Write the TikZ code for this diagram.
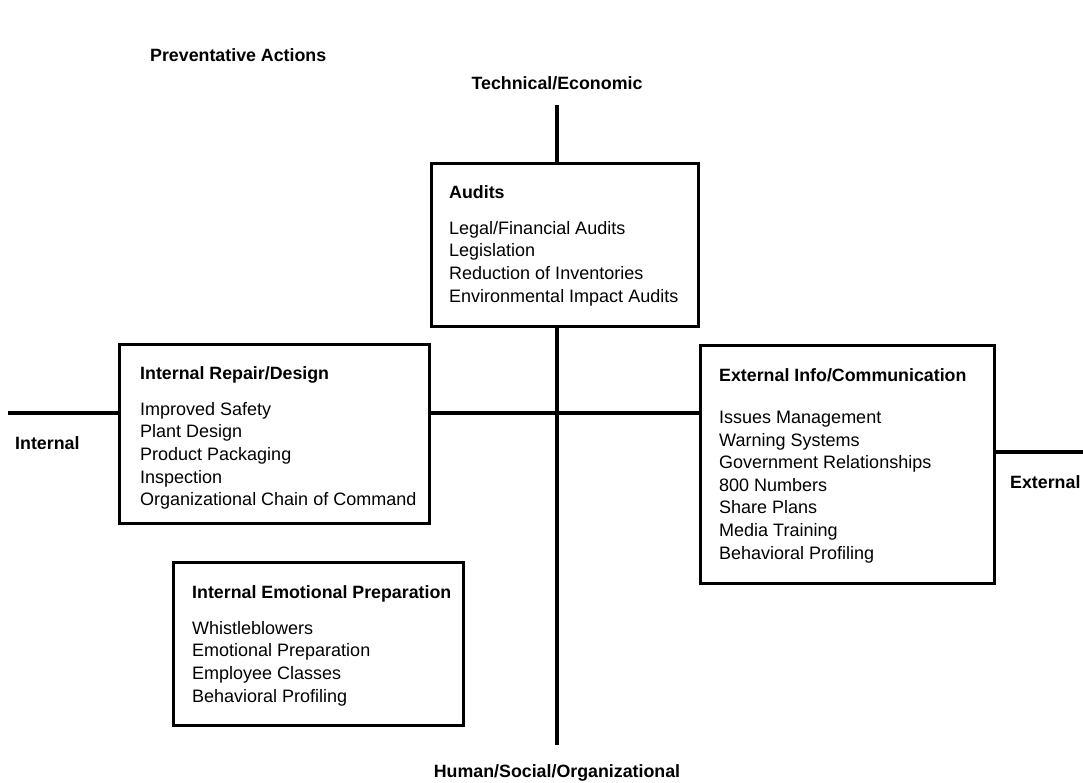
\documentclass[tikz,border=0pt]{standalone}
\usepackage{fontspec}
\setmainfont{Liberation Sans}
\begin{document}
\begin{tikzpicture}[x=1pt,y=-1pt,
  ax/.style={line width=3.2pt},
  bx/.style={draw,line width=3.2pt,inner sep=0pt,anchor=north west},
  hd/.style={anchor=north west,inner sep=0pt,font=\fontsize{17.8}{22.6}\selectfont\bfseries},
  it/.style={anchor=north west,inner sep=0pt,align=left,font=\fontsize{18}{22.6}\selectfont},
  lbl/.style={inner sep=0pt,font=\fontsize{17.8}{22.6}\selectfont\bfseries}]
\useasboundingbox (0,0) rectangle (1083,783);
% labels
\node[lbl,anchor=west] (title) at (150,55) {Preventative Actions};
\node[lbl] (tech) at (557,83) {Technical/Economic};
\node[lbl] (human) at (557,773) {Human/Social/Organizational};
\node[lbl,anchor=west] (intl) at (15,443) {Internal};
\node[lbl,anchor=west] (extl) at (1010,482) {External};
% boxes
\node[bx,minimum width=267pt,minimum height=163pt] (audits) at (430,162) {};
\node[bx,minimum width=310pt,minimum height=179pt] (repair) at (118,343) {};
\node[bx,minimum width=294pt,minimum height=238pt] (extinfo) at (699,344) {};
\node[bx,minimum width=290pt,minimum height=163pt] (emot) at (172,561) {};
% axis ends
\coordinate (vtop) at (557,105);
\coordinate (vbot) at (557,745);
\coordinate (hleft) at (8,413);
\coordinate (hright) at (1083,452);
\draw[ax] (vtop) -- (vtop |- audits.north);
\draw[ax] (vtop |- audits.south) -- (vbot);
\draw[ax] (hleft) -- (hleft -| repair.west);
\draw[ax] (hleft -| repair.east) -- (hleft -| extinfo.west);
\draw[ax] (hright -| extinfo.east) -- (hright);
% texts
\node[hd] (auditsh) at (449,185) {Audits};
\node[it] (auditsi) at (449,221) {Legal/Financial Audits\\Legislation\\Reduction of Inventories\\Environmental Impact Audits};
\node[hd] (repairh) at (140,366) {Internal Repair/Design};
\node[it] (repairi) at (140,402) {Improved Safety\\Plant Design\\Product Packaging\\Inspection\\Organizational Chain of Command};
\node[hd] (extinfoh) at (719,368) {External Info/Communication};
\node[it] (extinfoi) at (719,411) {Issues Management\\Warning Systems\\Government Relationships\\800 Numbers\\Share Plans\\Media Training\\Behavioral Profiling};
\node[hd] (emoth) at (192,585) {Internal Emotional Preparation};
\node[it] (emoti) at (192,621) {Whistleblowers\\Emotional Preparation\\Employee Classes\\Behavioral Profiling};
\end{tikzpicture}
\end{document}
